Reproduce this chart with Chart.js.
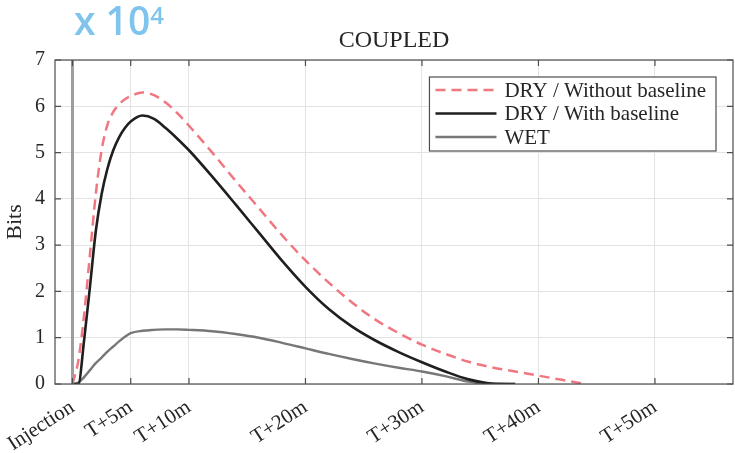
<!DOCTYPE html>
<html>
<head>
<meta charset="utf-8">
<script src="https://cdn.jsdelivr.net/npm/chart.js@4.4.1/dist/chart.umd.min.js"></script>
<style>
    html, body { margin: 0; padding: 0; background: #fff; }
    #wrap { position: relative; width: 735px; height: 453px; }
    #multiplier {
        position: absolute; left: 74px; top: 1px;
        font-family: "Open Sans", sans-serif; font-weight: 600;
        font-size: 39px; line-height: 38px; color: #7fc4ec; white-space: nowrap;
    }
    #multiplier span { font-size: 24px; position: relative; top: -11px; }
</style>
</head>
<body>
<div id="wrap">
    <canvas id="graph-coupled" width="735" height="453"></canvas>
    <div id="multiplier">x 10<span>4</span></div>
</div>
<script>
// minutes after injection
var minutes = [0, 0.5, 1, 1.5, 2, 2.5, 3, 3.5, 4, 4.5, 5, 6, 7, 8, 9, 10, 12, 14, 16, 18, 20, 22, 24, 26, 28, 30, 32, 34, 36, 38, 40, 42, 44];

// bits (x 10^4)
var dryWithoutBaseline = [0, 0.5, 1.5, 2.8, 4.1, 5.05, 5.6, 5.88, 6.04, 6.15, 6.22, 6.3, 6.24, 6.08, 5.85, 5.58, 5.0, 4.39, 3.8, 3.21, 2.67, 2.19, 1.76, 1.39, 1.1, 0.85, 0.65, 0.48, 0.36, 0.27, 0.18, 0.09, 0];
var dryWithBaseline = [0, 0, 0.95, 2.1, 3.3, 4.1, 4.65, 5.05, 5.33, 5.53, 5.67, 5.8, 5.73, 5.53, 5.3, 5.05, 4.48, 3.88, 3.27, 2.66, 2.1, 1.62, 1.24, 0.94, 0.69, 0.47, 0.27, 0.1, 0.01, 0, null, null, null];
var wet = [0, 0.03, 0.15, 0.3, 0.45, 0.57, 0.7, 0.81, 0.92, 1.02, 1.1, 1.15, 1.17, 1.18, 1.18, 1.17, 1.14, 1.08, 1.0, 0.89, 0.77, 0.65, 0.54, 0.44, 0.35, 0.27, 0.17, 0.05, 0, 0, null, null, null];

var tickValues = [0, 5, 10, 20, 30, 40, 50];
var tickLabels = ["Injection", "T+5m", "T+10m", "T+20m", "T+30m", "T+40m", "T+50m"];
var injectionSpan = [0, 7];
var chartTitle = "COUPLED";

var serif = "'Liberation Serif', 'Times New Roman', serif";

function points(values) {
    var out = [];
    for (var i = 0; i < minutes.length; i++) {
        if (values[i] !== null) out.push({ x: minutes[i], y: values[i] });
    }
    return out;
}

// box around the plot with inward ticks on all four sides, title centred over the plot
var frame = {
    id: "frame",
    afterDatasetsDraw: function (chart) {
        var ctx = chart.ctx, a = chart.chartArea;
        var xs = chart.scales.x, ys = chart.scales.y;
        ctx.save();
        ctx.strokeStyle = "#4d4d4d";
        ctx.lineWidth = 1.2;
        ctx.strokeRect(a.left, a.top, a.right - a.left, a.bottom - a.top);
        ctx.beginPath();
        xs.ticks.forEach(function (t) {
            var px = xs.getPixelForValue(t.value);
            ctx.moveTo(px, a.bottom); ctx.lineTo(px, a.bottom - 6);
            ctx.moveTo(px, a.top); ctx.lineTo(px, a.top + 6);
        });
        ys.ticks.forEach(function (t) {
            var py = ys.getPixelForValue(t.value);
            ctx.moveTo(a.left, py); ctx.lineTo(a.left + 6, py);
            ctx.moveTo(a.right, py); ctx.lineTo(a.right - 6, py);
        });
        ctx.stroke();

        ctx.font = "24px " + serif;
        ctx.fillStyle = "#262626";
        ctx.textAlign = "center";
        ctx.textBaseline = "middle";
        ctx.fillText(chartTitle, (a.left + a.right) / 2, a.top - 19);
        ctx.restore();
    }
};

// boxed legend in the upper right corner of the plot
var boxLegend = {
    id: "boxLegend",
    afterDraw: function (chart) {
        var ctx = chart.ctx, a = chart.chartArea;
        var items = chart.data.datasets.filter(function (ds) { return ds.label; });
        ctx.save();
        ctx.font = "21px " + serif;
        var textW = 0;
        items.forEach(function (ds) { textW = Math.max(textW, ctx.measureText(ds.label).width); });
        var w = 75 + textW + 10, h = 74;
        var right = a.right - 17, top = a.top + 17, left = right - w;
        ctx.fillStyle = "#fff";
        ctx.fillRect(left, top, w, h);
        ctx.strokeStyle = "#4d4d4d";
        ctx.lineWidth = 1.2;
        ctx.strokeRect(left, top, w, h);
        items.forEach(function (ds, i) {
            var y = top + 13 + i * 23.5;
            ctx.beginPath();
            ctx.setLineDash(ds.borderDash || []);
            ctx.strokeStyle = ds.borderColor;
            ctx.lineWidth = ds.borderWidth;
            ctx.moveTo(left + 6, y);
            ctx.lineTo(left + 67, y);
            ctx.stroke();
            ctx.setLineDash([]);
            ctx.fillStyle = "#262626";
            ctx.textBaseline = "middle";
            ctx.fillText(ds.label, left + 75, y + 1);
        });
        ctx.restore();
    }
};

var chart = new Chart(document.getElementById("graph-coupled").getContext("2d"), {
    type: "line",
    data: {
        datasets: [{
            label: "DRY / Without baseline",
            data: points(dryWithoutBaseline),
            borderColor: "#f07780",
            borderWidth: 2.5,
            borderDash: [10, 6],
            pointRadius: 0,
            cubicInterpolationMode: "monotone"
        }, {
            label: "DRY / With baseline",
            data: points(dryWithBaseline),
            borderColor: "#1f1f1f",
            borderWidth: 2.6,
            pointRadius: 0,
            cubicInterpolationMode: "monotone"
        }, {
            label: "WET",
            data: points(wet),
            borderColor: "#777777",
            borderWidth: 2.4,
            pointRadius: 0,
            cubicInterpolationMode: "monotone"
        }, {
            // injection marker
            data: injectionSpan.map(function (v) { return { x: 0, y: v }; }),
            borderColor: "#9d9d9d",
            borderWidth: 3,
            pointRadius: 0
        }]
    },
    options: {
        responsive: false,
        animation: false,
        layout: { padding: { top: 60, left: 0, right: 2, bottom: 0 } },
        plugins: {
            legend: { display: false },
            tooltip: { enabled: false },
            title: { display: false }
        },
        scales: {
            x: {
                type: "linear",
                min: -1.5,
                max: 56.7,
                afterFit: function (scale) {
                    scale.height = 69;
                    scale.paddingLeft = 0;
                    scale.paddingRight = 0;
                },
                afterBuildTicks: function (scale) {
                    scale.ticks = tickValues.map(function (v) { return { value: v }; });
                },
                grid: { color: "#e3e3e3", drawTicks: false },
                border: { display: false },
                ticks: {
                    autoSkip: false,
                    minRotation: 33,
                    maxRotation: 33,
                    padding: 11,
                    color: "#262626",
                    font: { family: serif, size: 21 },
                    callback: function (value) { return tickLabels[tickValues.indexOf(value)]; }
                }
            },
            y: {
                min: 0,
                max: 7,
                afterFit: function (scale) { scale.width = 55; },
                grid: { color: "#e3e3e3", drawTicks: false },
                border: { display: false },
                ticks: {
                    stepSize: 1,
                    padding: 10,
                    color: "#262626",
                    font: { family: serif, size: 20 }
                },
                title: {
                    display: true,
                    text: "Bits",
                    color: "#262626",
                    font: { family: serif, size: 22 },
                    padding: { top: 2, bottom: 0 }
                }
            }
        }
    },
    plugins: [frame, boxLegend]
});
</script>
</body>
</html>
